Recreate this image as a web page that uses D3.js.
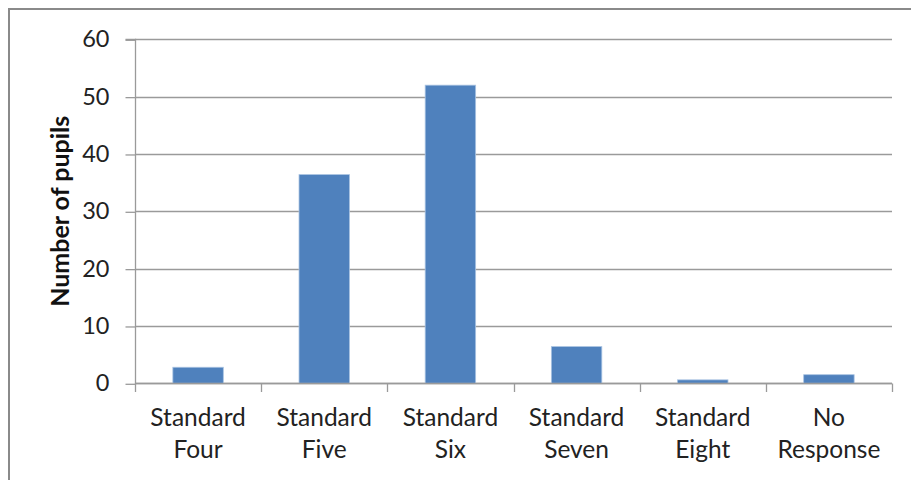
<!DOCTYPE html>
<html>
<head>
<meta charset="utf-8">
<script src="https://cdn.jsdelivr.net/npm/d3@7"></script>
<style>
  html, body { margin: 0; padding: 0; background: #fff; }
  svg { display: block; }
</style>
</head>
<body>
<svg id="chart" width="911" height="480"></svg>
<script>
// Pupils by class level
const categories = [
  ["Standard", "Four"],
  ["Standard", "Five"],
  ["Standard", "Six"],
  ["Standard", "Seven"],
  ["Standard", "Eight"],
  ["No", "Response"]
];
const pupils = [2.8, 36.4, 52, 6.4, 0.6, 1.5];
const yTicks = [0, 10, 20, 30, 40, 50, 60];
const yTitle = "Number of pupils";

const svg = d3.select("#chart");
const font = "Lato, 'Open Sans', sans-serif";

// outer chart frame
svg.append("rect")
  .attr("x", 9).attr("y", 9)
  .attr("width", 960).attr("height", 520)
  .attr("fill", "#fff")
  .attr("stroke", "#8a8a8a")
  .attr("stroke-width", 2);

const plot = { left: 135, right: 892, top: 39.3, bottom: 383.3 };

const x = d3.scaleBand()
  .domain(d3.range(categories.length))
  .range([plot.left, plot.right])
  .paddingInner(0.6)
  .paddingOuter(0.3);

const y = d3.scaleLinear()
  .domain([0, 60])
  .range([plot.bottom, plot.top]);

// horizontal gridlines
svg.append("g")
  .selectAll("line")
  .data(yTicks)
  .join("line")
  .attr("x1", plot.left).attr("x2", plot.right)
  .attr("y1", d => Math.round(y(d)) + 0.5)
  .attr("y2", d => Math.round(y(d)) + 0.5)
  .attr("stroke", "#9a9a9a")
  .attr("stroke-width", 1.3);

// bars
svg.append("g")
  .selectAll("rect")
  .data(pupils)
  .join("rect")
  .attr("x", (d, i) => x(i))
  .attr("width", x.bandwidth())
  .attr("y", d => y(d))
  .attr("height", d => y(0) - y(d))
  .attr("fill", "#4f81bd")
  .attr("stroke", "#a9c3e2")
  .attr("stroke-width", 0.8);

// y axis
const yAxis = d3.axisLeft(y)
  .tickValues(yTicks)
  .tickSize(10)
  .tickPadding(16)
  .tickFormat(d3.format("d"));

const gy = svg.append("g")
  .attr("transform", `translate(${plot.left + 0.5},0)`)
  .call(yAxis);
gy.select(".domain").attr("stroke", "#9a9a9a").attr("stroke-width", 1.3)
  .attr("d", `M-10,${Math.round(y(60)) + 0.5}H0V${plot.bottom + 1}`);
gy.selectAll(".tick line").attr("stroke", "#9a9a9a").attr("stroke-width", 1.3)
  .attr("transform", "translate(0,0.5)");
gy.selectAll(".tick text")
  .attr("font-family", font)
  .attr("font-size", 23.5)
  .attr("fill", "#222");

// x axis: category boundary ticks
const bounds = d3.range(categories.length + 1)
  .map(i => plot.left + i * (plot.right - plot.left) / categories.length);
const gx = svg.append("g");
gx.append("line")
  .attr("x1", plot.left).attr("x2", plot.right)
  .attr("y1", Math.round(y(0)) + 0.5).attr("y2", Math.round(y(0)) + 0.5)
  .attr("stroke", "#9a9a9a").attr("stroke-width", 1.3);
gx.selectAll("line.tk")
  .data(bounds)
  .join("line")
  .attr("class", "tk")
  .attr("x1", d => Math.round(d) + 0.5).attr("x2", d => Math.round(d) + 0.5)
  .attr("y1", Math.round(y(0)) + 0.5).attr("y2", Math.round(y(0)) + 9)
  .attr("stroke", "#9a9a9a").attr("stroke-width", 1.3);

// category labels, two lines each
const labels = svg.append("g")
  .selectAll("text")
  .data(categories)
  .join("text")
  .attr("x", (d, i) => x(i) + x.bandwidth() / 2)
  .attr("y", 426)
  .attr("text-anchor", "middle")
  .attr("font-family", font)
  .attr("font-size", 24.5)
  .attr("fill", "#222");
labels.each(function(d) {
  const t = d3.select(this);
  const cx = t.attr("x");
  t.selectAll("tspan")
    .data(d)
    .join("tspan")
    .attr("x", cx)
    .attr("dy", (s, j) => j === 0 ? 0 : 32)
    .text(s => s);
});

// y axis title
svg.append("text")
  .attr("transform", `translate(69,${(plot.top + plot.bottom) / 2}) rotate(-90)`)
  .attr("text-anchor", "middle")
  .attr("font-family", font)
  .attr("font-weight", "bold")
  .attr("font-size", 25)
  .attr("fill", "#111")
  .text(yTitle);
</script>
</body>
</html>
